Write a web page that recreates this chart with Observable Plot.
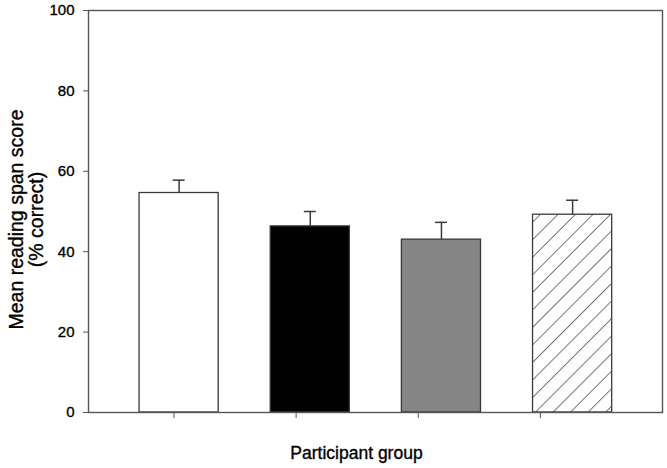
<!DOCTYPE html>
<html><head><meta charset="utf-8">
<script src="https://cdn.jsdelivr.net/npm/d3@7"></script>
<script src="https://cdn.jsdelivr.net/npm/@observablehq/plot@0.6"></script>
<style>body{margin:0;background:#fff} #chart svg text{stroke:#000;stroke-width:0.35px}</style>
</head><body><div id="chart"></div>
<script>
// Data
const groups = ["Group 1", "Group 2", "Group 3", "Group 4"];
const means = [54.6, 46.3, 43.0, 49.2];
const errors = [3.2, 3.7, 4.3, 3.6];
const yTicks = [0, 20, 40, 60, 80, 100];
const xTicks = [1, 2, 3, 4];
const yLabel = "Mean reading span score\n(% correct)";
const xLabel = "Participant group";

// layout (in x-scale units)
const barStart = 1.042, barStep = 1.074, barWidth = 0.648, capHalf = 0.049;

const rows = groups.map((g, i) => ({
  group: g, mean: means[i], err: errors[i], center: barStart + barStep * i
}));

const ink = "#3a3a3a";
const svg = Plot.plot({
  width: 667, height: 468,
  marginTop: 10, marginBottom: 56, marginLeft: 88, marginRight: 5,
  style: {fontFamily: "'Liberation Sans', Arial, sans-serif", fontSize: "15px", color: "#000", background: "white"},
  x: {type: "linear", domain: [0.3, 5.0]},
  y: {domain: [0, 100]},
  color: {domain: groups, range: ["white", "black", "#858585", "url(#hatch)"]},
  marks: [
    Plot.rectY(rows, {x1: d => d.center - barWidth / 2, x2: d => d.center + barWidth / 2, y1: 0, y2: "mean", fill: "group", stroke: ink, strokeWidth: 1.3}),
    Plot.ruleX(rows, {x: "center", y1: "mean", y2: d => d.mean + d.err, stroke: ink, strokeWidth: 1.5}),
    Plot.ruleY(rows, {y: d => d.mean + d.err, x1: d => d.center - capHalf, x2: d => d.center + capHalf, stroke: ink, strokeWidth: 1.5}),
    Plot.frame({stroke: "#555", strokeWidth: 1.4}),
    Plot.axisY({ticks: yTicks, tickSize: 5, tickPadding: 9, label: null, stroke: "#555", fontSize: 15, fill: "#000"}),
    Plot.axisX({ticks: xTicks, tickSize: 6, tickFormat: () => "", label: null, stroke: "#555"}),
    Plot.text([yLabel], {frameAnchor: "left", rotate: -90, textAnchor: "middle", lineAnchor: "middle", dx: -62, dy: 8, fontSize: 19.5, fill: "#000"}),
    Plot.text([xLabel], {frameAnchor: "bottom", textAnchor: "middle", lineAnchor: "middle", dx: -19, dy: 41, fontSize: 17.5, fill: "#000"})
  ]
});

const defs = d3.select(svg).insert("defs", ":first-child");
const pat = defs.append("pattern")
  .attr("id", "hatch").attr("patternUnits", "userSpaceOnUse")
  .attr("width", 12.4).attr("height", 12.4)
  .attr("patternTransform", "rotate(45)");
pat.append("rect").attr("width", 12.4).attr("height", 12.4).attr("fill", "white");
pat.append("line").attr("x1", 0).attr("y1", 0).attr("x2", 0).attr("y2", 12.4)
  .attr("stroke", "#555").attr("stroke-width", 1.6);

document.getElementById("chart").appendChild(svg);
</script>
</body></html>
